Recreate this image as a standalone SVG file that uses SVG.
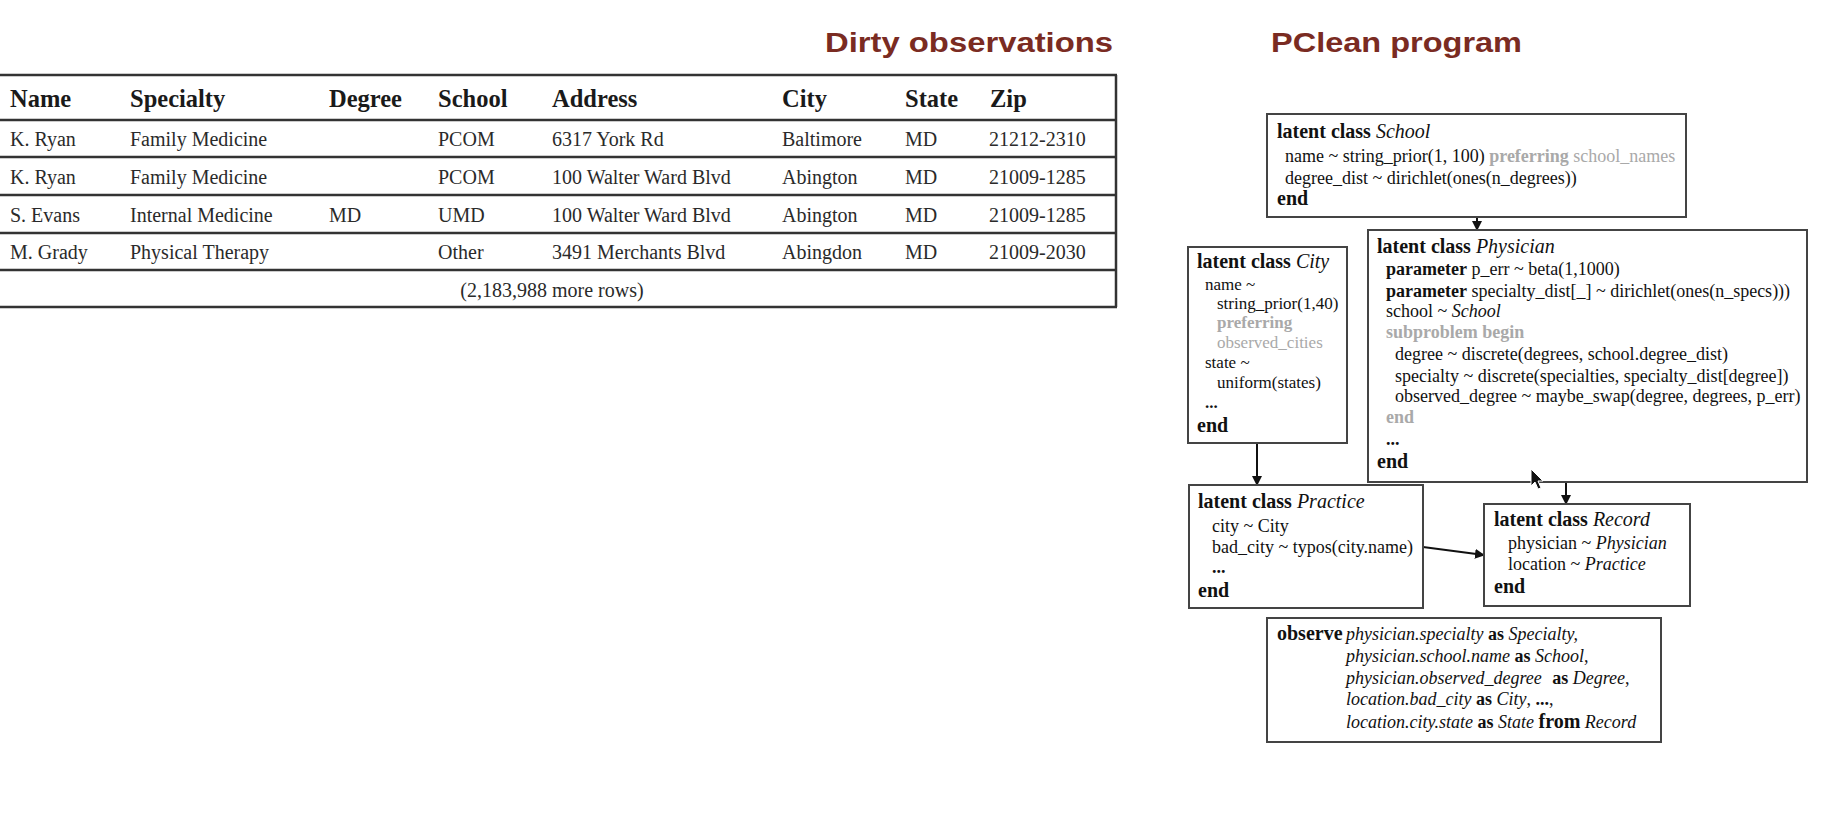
<svg xmlns="http://www.w3.org/2000/svg" width="1829" height="840" viewBox="0 0 1829 840">
  <defs>
    <style>
      .title { font-family: "Liberation Sans", Arial, sans-serif; font-weight: bold; font-size: 28px; fill: #7a2b22; }
      .th { font-family: "Liberation Serif", "Times New Roman", serif; font-weight: bold; font-size: 24.5px; fill: #1a1a1a; }
      .td { font-family: "Liberation Serif", "Times New Roman", serif; font-size: 20px; fill: #2a2a2a; }
      .rule { stroke: #333; stroke-width: 2.5; fill: none; }
      .box { fill: #fff; stroke: #444; stroke-width: 2; }
      .code { font-family: "Liberation Serif", "Times New Roman", serif; font-size: 18px; fill: #111; }
      .small { font-size: 17px; }
      .hdr { font-size: 20px; }
      .b { font-weight: bold; }
      .i { font-style: italic; }
      .g { fill: #a9a9a9; }
      .big { font-size: 20px; }
      .edge { stroke: #111; stroke-width: 2; fill: none; marker-end: url(#arrow); }
    </style>
    <marker id="arrow" markerUnits="userSpaceOnUse" markerWidth="10" markerHeight="10" refX="9" refY="5" orient="auto">
      <path d="M0,0 L10,5 L0,10 Z" fill="#111"/>
    </marker>
  </defs>

  <rect width="1829" height="840" fill="#fff"/>

  <!-- section headings -->
  <text class="title" x="825" y="52" textLength="288" lengthAdjust="spacingAndGlyphs">Dirty observations</text>
  <text class="title" x="1271" y="52" textLength="251" lengthAdjust="spacingAndGlyphs">PClean program</text>

  <!-- observations table -->
  <g id="table">
    <g class="rule">
      <line x1="-5" y1="75" x2="1117" y2="75"/>
      <line x1="-5" y1="120" x2="1117" y2="120"/>
      <line x1="-5" y1="157" x2="1117" y2="157"/>
      <line x1="-5" y1="195" x2="1117" y2="195"/>
      <line x1="-5" y1="233" x2="1117" y2="233"/>
      <line x1="-5" y1="270" x2="1117" y2="270"/>
      <line x1="-5" y1="307" x2="1117" y2="307"/>
      <line x1="1116" y1="75" x2="1116" y2="307"/>
    </g>
    <g class="th">
      <text x="10" y="107">Name</text>
      <text x="130" y="107">Specialty</text>
      <text x="329" y="107">Degree</text>
      <text x="438" y="107">School</text>
      <text x="552" y="107">Address</text>
      <text x="782" y="107">City</text>
      <text x="905" y="107">State</text>
      <text x="990" y="107">Zip</text>
    </g>
    <g class="td">
      <text x="10" y="146">K. Ryan</text>
      <text x="130" y="146">Family Medicine</text>
      <text x="438" y="146">PCOM</text>
      <text x="552" y="146">6317 York Rd</text>
      <text x="782" y="146">Baltimore</text>
      <text x="905" y="146">MD</text>
      <text x="989" y="146">21212-2310</text>

      <text x="10" y="184">K. Ryan</text>
      <text x="130" y="184">Family Medicine</text>
      <text x="438" y="184">PCOM</text>
      <text x="552" y="184">100 Walter Ward Blvd</text>
      <text x="782" y="184">Abington</text>
      <text x="905" y="184">MD</text>
      <text x="989" y="184">21009-1285</text>

      <text x="10" y="222">S. Evans</text>
      <text x="130" y="222">Internal Medicine</text>
      <text x="329" y="222">MD</text>
      <text x="438" y="222">UMD</text>
      <text x="552" y="222">100 Walter Ward Blvd</text>
      <text x="782" y="222">Abington</text>
      <text x="905" y="222">MD</text>
      <text x="989" y="222">21009-1285</text>

      <text x="10" y="259">M. Grady</text>
      <text x="130" y="259">Physical Therapy</text>
      <text x="438" y="259">Other</text>
      <text x="552" y="259">3491 Merchants Blvd</text>
      <text x="782" y="259">Abingdon</text>
      <text x="905" y="259">MD</text>
      <text x="989" y="259">21009-2030</text>

      <text x="552" y="297" text-anchor="middle">(2,183,988 more rows)</text>
    </g>
  </g>

  <!-- connectors between classes -->
  <g id="connectors">
    <line class="edge" x1="1477" y1="217" x2="1477" y2="230"/>
    <line class="edge" x1="1257" y1="443" x2="1257" y2="485"/>
    <line class="edge" x1="1566" y1="482" x2="1566" y2="504"/>
    <line class="edge" x1="1423" y1="547" x2="1484" y2="555"/>
  </g>

  <g id="school" class="code">
    <rect class="box" x="1267" y="114" width="419" height="103"/>
    <text x="1277" y="138" class="hdr"><tspan class="b">latent class </tspan><tspan class="i">School</tspan></text>
    <text x="1285" y="162">name ~ string_prior(1, 100) <tspan class="g b">preferring</tspan><tspan class="g"> school_names</tspan></text>
    <text x="1285" y="184">degree_dist ~ dirichlet(ones(n_degrees))</text>
    <text x="1277" y="205" class="b big">end</text>
  </g>

  <g id="city" class="code">
    <rect class="box" x="1188" y="247" width="159" height="196"/>
    <text x="1197" y="268" class="hdr"><tspan class="b">latent class </tspan><tspan class="i">City</tspan></text>
    <text x="1205" y="290" class="small">name ~</text>
    <text x="1217" y="309" class="small">string_prior(1,40)</text>
    <text x="1217" y="328" class="small g b">preferring</text>
    <text x="1217" y="348" class="small g">observed_cities</text>
    <text x="1205" y="368" class="small">state ~</text>
    <text x="1217" y="388" class="small">uniform(states)</text>
    <text x="1205" y="408" class="small b">...</text>
    <text x="1197" y="432" class="b big">end</text>
  </g>

  <g id="physician" class="code">
    <rect class="box" x="1368" y="230" width="439" height="252"/>
    <text x="1377" y="253" class="hdr"><tspan class="b">latent class </tspan><tspan class="i">Physician</tspan></text>
    <text x="1386" y="275"><tspan class="b">parameter</tspan> p_err ~ beta(1,1000)</text>
    <text x="1386" y="297"><tspan class="b">parameter</tspan> specialty_dist[_] ~ dirichlet(ones(n_specs)))</text>
    <text x="1386" y="317">school ~ <tspan class="i">School</tspan></text>
    <text x="1386" y="338" class="g b">subproblem begin</text>
    <text x="1395" y="360">degree ~ discrete(degrees, school.degree_dist)</text>
    <text x="1395" y="382">specialty ~ discrete(specialties, specialty_dist[degree])</text>
    <text x="1395" y="402">observed_degree ~ maybe_swap(degree, degrees, p_err)</text>
    <text x="1386" y="423" class="g b">end</text>
    <text x="1386" y="445" class="b">...</text>
    <text x="1377" y="468" class="b big">end</text>
  </g>

  <g id="practice" class="code">
    <rect class="box" x="1189" y="485" width="234" height="123"/>
    <text x="1198" y="508" class="hdr"><tspan class="b">latent class </tspan><tspan class="i">Practice</tspan></text>
    <text x="1212" y="532">city ~ City</text>
    <text x="1212" y="553">bad_city ~ typos(city.name)</text>
    <text x="1212" y="573" class="b">...</text>
    <text x="1198" y="597" class="b big">end</text>
  </g>

  <g id="record" class="code">
    <rect class="box" x="1484" y="504" width="206" height="102"/>
    <text x="1494" y="526" class="hdr"><tspan class="b">latent class </tspan><tspan class="i">Record</tspan></text>
    <text x="1508" y="549">physician ~ <tspan class="i">Physician</tspan></text>
    <text x="1508" y="570">location ~ <tspan class="i">Practice</tspan></text>
    <text x="1494" y="593" class="b big">end</text>
  </g>

  <g id="observe" class="code">
    <rect class="box" x="1267" y="618" width="394" height="124"/>
    <text x="1277" y="640" class="b big">observe</text>
    <text x="1346" y="640"><tspan class="i">physician.specialty</tspan> <tspan class="b">as</tspan> <tspan class="i">Specialty,</tspan></text>
    <text x="1346" y="662"><tspan class="i">physician.school.name</tspan> <tspan class="b">as</tspan> <tspan class="i">School</tspan>,</text>
    <text x="1346" y="684"><tspan class="i">physician.observed_degree</tspan> <tspan class="b" dx="6">as</tspan> <tspan class="i">Degree</tspan>,</text>
    <text x="1346" y="705"><tspan class="i">location.bad_city</tspan> <tspan class="b">as</tspan> <tspan class="i">City</tspan>, <tspan class="b">...</tspan>,</text>
    <text x="1346" y="728"><tspan class="i">location.city.state</tspan> <tspan class="b">as</tspan> <tspan class="i">State</tspan> <tspan class="b big">from</tspan> <tspan class="i">Record</tspan></text>
  </g>

  <!-- pointer -->
  <path d="M1531,469 L1531,486 L1535,482 L1538,489 L1541,488 L1538,481 L1543,481 Z" fill="#111" stroke="#fff" stroke-width="1"/>
</svg>
